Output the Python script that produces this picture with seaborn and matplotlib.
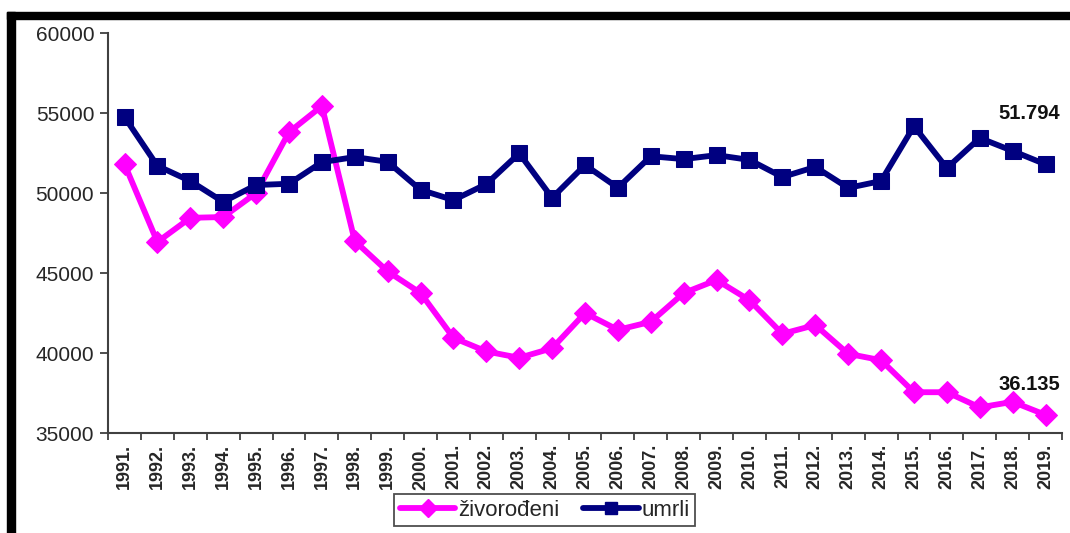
import matplotlib
matplotlib.use("Agg")
import matplotlib.pyplot as plt  # type: ignore
import seaborn as sns  # type: ignore
import pandas as pd  # type: ignore
from matplotlib.lines import Line2D  # type: ignore
from matplotlib.patches import Rectangle  # type: ignore
from matplotlib.ticker import FixedLocator  # type: ignore

# Data
years = [f"{y}." for y in range(1991, 2020)]
zivorodeni = [51810, 46940, 48450, 48500, 50000, 53800, 55440, 47000, 45100,
              43750, 40950, 40100, 39700, 40300, 42500, 41450, 41950, 43750,
              44560, 43300, 41200, 41750, 39950, 39550, 37550, 37550, 36600,
              36950, 36135]
umrli = [54750, 51700, 50750, 49450, 50500, 50580, 51930, 52250, 51950,
         50200, 49560, 50560, 52480, 49700, 51750, 50330, 52300, 52120,
         52370, 52070, 51000, 51630, 50320, 50750, 54180, 51560, 53440,
         52630, 51794]
label_umrli = "51.794"
label_zivo = "36.135"

df = pd.DataFrame({"year": years, "živorođeni": zivorodeni, "umrli": umrli})

sns.set_style("white")
plt.rcParams["font.family"] = ["Liberation Sans", "DejaVu Sans"]

fig = plt.figure(figsize=(10.7, 5.33), dpi=100)
ax = fig.add_axes([0.101, 0.1876, 0.8915, 0.7504])

pink = "#FF00FF"
navy = "#000080"

sns.lineplot(data=df, x="year", y="živorođeni", ax=ax, color=pink, lw=4.2,
             marker="D", markersize=11, markeredgecolor=pink, sort=False)
sns.lineplot(data=df, x="year", y="umrli", ax=ax, color=navy, lw=4.2,
             marker="s", markersize=11.5, markeredgecolor=navy, sort=False)

ax.set_ylim(35000, 60000)
ax.set_xlim(-0.5, len(years) - 0.5)
ax.set_yticks(range(35000, 60001, 5000))
ax.set_yticklabels([str(v) for v in range(35000, 60001, 5000)], fontsize=15)
ax.set_xticks(range(len(years)))
ax.set_xticklabels(years, rotation=90, fontsize=13, fontweight="bold")
ax.xaxis.set_minor_locator(FixedLocator([i - 0.5 for i in range(len(years) + 1)]))
ax.tick_params(axis="x", which="major", length=0, pad=8)
ax.tick_params(axis="x", which="minor", length=5, width=1.3, color="#404040", bottom=True)
ax.tick_params(axis="y", length=6, width=1.3, color="#404040", left=True, pad=4)
ax.set_xlabel("")
ax.set_ylabel("")

for side in ["top", "right"]:
    ax.spines[side].set_visible(False)
for side in ["left", "bottom"]:
    ax.spines[side].set_color("#404040")
    ax.spines[side].set_linewidth(1.5)

ax.text(len(years) - 0.55, 55000, label_umrli, ha="right", va="center",
        fontsize=14.5, fontweight="bold", color="#111111")
ax.text(len(years) - 0.55, 38050, label_zivo, ha="right", va="center",
        fontsize=14.5, fontweight="bold", color="#111111")

handles = [
    Line2D([], [], color=pink, lw=4.2, marker="D", markersize=9, label="živorođeni"),
    Line2D([], [], color=navy, lw=4.2, marker="s", markersize=9, label="umrli"),
]
leg = fig.legend(handles=handles, loc="center", bbox_to_anchor=(0.509, 0.043),
                 ncol=2, fontsize=16, frameon=True, fancybox=False,
                 handlelength=2.5, handletextpad=0.1, columnspacing=1.1,
                 borderpad=0.25, borderaxespad=0)
leg.get_frame().set_edgecolor("#222222")
leg.get_frame().set_linewidth(1.3)

# black frame cut off at right and bottom
fig.patches.append(Rectangle((7 / 1070, 1 - 19 / 533), 1 - 7 / 1070, 7 / 533,
                             transform=fig.transFigure, color="black", zorder=0))
fig.patches.append(Rectangle((7 / 1070, 0), 8 / 1070, 1 - 12 / 533,
                             transform=fig.transFigure, color="black", zorder=0))

fig.savefig("out.png", dpi=100)
